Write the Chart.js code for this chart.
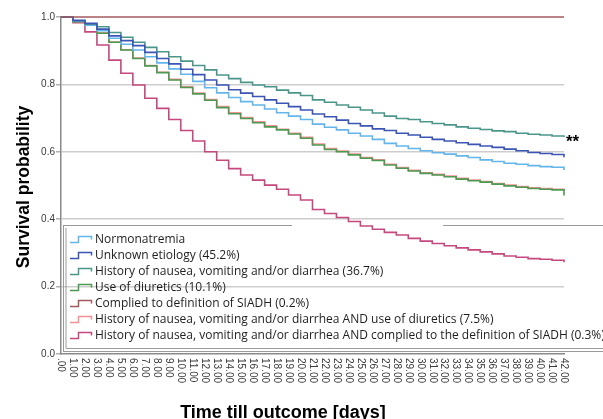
<!DOCTYPE html>
<html><head><meta charset="utf-8">
<script src="https://cdn.jsdelivr.net/npm/chart.js@4"></script>
<style>html,body{margin:0;padding:0;background:#fff}#w{width:603px;height:419px;position:relative}</style>
</head><body><div id="w"><canvas id="c"></canvas></div>
<script>
const xTickLabels = ['.00','1.00','2.00','3.00','4.00','5.00','6.00','7.00','8.00','9.00','10.00','11.00','12.00','13.00','14.00','15.00','16.00','17.00','18.00','19.00','20.00','21.00','22.00','23.00','24.00','25.00','26.00','27.00','28.00','29.00','30.00','31.00','32.00','33.00','34.00','35.00','36.00','37.00','38.00','39.00','40.00','41.00','42.00'];
const yTickLabels = ['0.0','0.2','0.4','0.6','0.8','1.0'];
const seriesNames = [
  'Normonatremia',
  'Unknown etiology (45.2%)',
  'History of nausea, vomiting and/or diarrhea (36.7%)',
  'Use of diuretics (10.1%)',
  'Complied to definition of SIADH (0.2%)',
  'History of nausea, vomiting and/or diarrhea AND use of diuretics (7.5%)',
  'History of nausea, vomiting and/or diarrhea AND complied to the definition of SIADH (0.3%)'
];
const seriesColors = ['#62b6ec','#3a55b5','#4b968b','#4d9a52','#a35a5c','#f39094','#c6487f'];

const normonatremia = [1.0,0.988,0.976,0.959,0.937,0.919,0.902,0.882,0.864,0.846,0.830,0.809,0.790,0.775,0.761,0.749,0.739,0.727,0.716,0.706,0.696,0.682,0.673,0.665,0.655,0.647,0.637,0.625,0.617,0.610,0.603,0.597,0.593,0.588,0.583,0.576,0.571,0.566,0.563,0.559,0.556,0.554,0.546];
const unknownEtiology = [1.0,0.990,0.981,0.964,0.944,0.930,0.915,0.895,0.877,0.861,0.845,0.829,0.813,0.798,0.784,0.774,0.764,0.754,0.744,0.734,0.724,0.712,0.704,0.694,0.684,0.677,0.668,0.663,0.655,0.650,0.643,0.637,0.632,0.627,0.622,0.617,0.613,0.608,0.603,0.598,0.595,0.592,0.584];
const historyNVD = [1.0,0.989,0.979,0.971,0.954,0.940,0.925,0.910,0.897,0.882,0.869,0.856,0.843,0.828,0.817,0.806,0.798,0.793,0.783,0.775,0.767,0.754,0.747,0.739,0.732,0.724,0.715,0.706,0.699,0.696,0.689,0.684,0.680,0.674,0.670,0.666,0.662,0.660,0.655,0.652,0.650,0.647,0.644];
const diuretics = [1.0,0.986,0.976,0.952,0.925,0.902,0.877,0.855,0.835,0.813,0.791,0.772,0.753,0.731,0.713,0.699,0.686,0.674,0.665,0.653,0.640,0.620,0.607,0.600,0.591,0.581,0.574,0.561,0.551,0.543,0.536,0.531,0.526,0.519,0.514,0.510,0.504,0.499,0.495,0.491,0.489,0.487,0.470];
const siadh = [1.0,1.0,1.0,1.0,1.0,1.0,1.0,1.0,1.0,1.0,1.0,1.0,1.0,1.0,1.0,1.0,1.0,1.0,1.0,1.0,1.0,1.0,1.0,1.0,1.0,1.0,1.0,1.0,1.0,1.0,1.0,1.0,1.0,1.0,1.0,1.0,1.0,1.0,1.0,1.0,1.0,1.0,1.0];
const historyAndDiuretics = [1.0,0.986,0.977,0.953,0.926,0.903,0.878,0.856,0.836,0.815,0.793,0.774,0.755,0.734,0.716,0.702,0.689,0.677,0.667,0.655,0.643,0.623,0.610,0.602,0.593,0.583,0.576,0.563,0.553,0.545,0.538,0.533,0.528,0.521,0.516,0.512,0.506,0.501,0.497,0.493,0.491,0.489,0.486];
const historyAndSiadh = [1.0,0.983,0.956,0.917,0.872,0.833,0.798,0.759,0.729,0.696,0.663,0.632,0.600,0.575,0.550,0.531,0.516,0.501,0.489,0.472,0.457,0.429,0.417,0.405,0.393,0.380,0.370,0.361,0.353,0.343,0.335,0.328,0.321,0.315,0.309,0.303,0.297,0.291,0.287,0.283,0.281,0.278,0.272];

const seriesData = [normonatremia, unknownEtiology, historyNVD, diuretics, siadh, historyAndDiuretics, historyAndSiadh];
// drawing order (lower = on top)
const drawOrder = [3, 1, 2, 4, 0, 5, 6];

const overlay = {
  id: 'overlay',
  afterDraw(chart) {
    const ctx = chart.ctx;
    const xs = chart.scales.x;
    ctx.save();
    ctx.fillStyle = '#3a3a3a';
    ctx.font = '10px "Liberation Sans", Arial, sans-serif';
    ctx.textAlign = 'left';
    ctx.textBaseline = 'middle';
    xs.ticks.forEach((t, i) => {
      const px = xs.getPixelForTick(i);
      ctx.save();
      ctx.translate(px, 358);
      ctx.rotate(Math.PI / 2);
      ctx.fillText(xTickLabels[i], 0, 0);
      ctx.restore();
    });
    ctx.restore();

    ctx.save();
    ctx.fillStyle = '#000';
    ctx.font = 'bold 18px "Liberation Sans", Arial, sans-serif';
    ctx.textAlign = 'center';
    ctx.textBaseline = 'alphabetic';
    ctx.fillText('Time till outcome [days]', 283, 418);
    ctx.translate(29, 187);
    ctx.rotate(-Math.PI / 2);
    ctx.font = 'bold 17.5px "Liberation Sans", Arial, sans-serif';
    ctx.fillText('Survival probability', 0, 0);
    ctx.restore();

    ctx.save();
    ctx.fillStyle = '#000';
    ctx.font = 'bold 17px "Liberation Sans", Arial, sans-serif';
    ctx.textAlign = 'left';
    ctx.textBaseline = 'alphabetic';
    ctx.fillText('**', 566, 147);
    ctx.restore();

    ctx.save();
    ctx.strokeStyle = '#9a9a9a';
    ctx.lineWidth = 1;
    ctx.beginPath();
    ctx.moveTo(63, 225.5); ctx.lineTo(292, 225.5);
    ctx.moveTo(443, 225.5); ctx.lineTo(603, 225.5);
    ctx.moveTo(63.5, 225); ctx.lineTo(63.5, 352);
    ctx.moveTo(63, 351.5); ctx.lineTo(603, 351.5);
    ctx.moveTo(66, 228); ctx.lineTo(66, 348.5);
    ctx.moveTo(66, 348.5); ctx.lineTo(603, 348.5);
    ctx.stroke();
    ctx.font = '12px "Open Sans", sans-serif';
    ctx.textAlign = 'left';
    ctx.textBaseline = 'middle';
    seriesNames.forEach((name, i) => {
      const cy = Math.round(239.3 + i * 15.95) + 0.5;
      ctx.strokeStyle = seriesColors[i];
      ctx.lineWidth = 1.5;
      ctx.beginPath();
      ctx.moveTo(70, cy + 3); ctx.lineTo(78.5, cy + 3); ctx.lineTo(78.5, cy - 3);
      ctx.lineTo(91.5, cy - 3); ctx.lineTo(91.5, cy);
      ctx.stroke();
      ctx.fillStyle = '#1e1e1e';
      ctx.fillText(name, 95, cy);
    });
    ctx.restore();
  }
};

new Chart(document.getElementById('c'), {
  type: 'line',
  data: {
    labels: xTickLabels,
    datasets: seriesData.map((d, i) => ({
      label: seriesNames[i],
      data: d,
      borderColor: seriesColors[i],
      backgroundColor: seriesColors[i],
      borderWidth: 1.6,
      pointRadius: 0,
      stepped: 'before',
      fill: false,
      clip: 6,
      order: drawOrder[i]
    }))
  },
  options: {
    responsive: true,
    maintainAspectRatio: false,
    animation: false,
    devicePixelRatio: 1,
    layout: { padding: { left: 0, right: 39, top: 17, bottom: 0 } },
    plugins: { legend: { display: false }, tooltip: { enabled: false }, title: { display: false } },
    scales: {
      x: {
        type: 'category',
        ticks: { display: false },
        grid: { display: true, drawOnChartArea: false, drawTicks: false },
        border: { display: true, color: '#8a8a8a', width: 1.5 },
        afterFit(s) { s.height = 65; }
      },
      y: {
        min: 0, max: 1,
        ticks: {
          stepSize: 0.2,
          padding: 1,
          color: '#3a3a3a',
          font: { family: '"Liberation Sans", Arial, sans-serif', size: 10 },
          callback: (v, i) => yTickLabels[i]
        },
        grid: {
          color: (c) => (c.index === 0 || c.index === 5) ? 'rgba(0,0,0,0)' : '#cdcdcd',
          lineWidth: 1.5, tickLength: 5,
          tickColor: '#b0b0b0'
        },
        border: { display: true, color: '#8a8a8a', width: 1.5 },
        afterFit(s) { s.width = 61; }
      }
    }
  },
  plugins: [overlay]
});
</script>
</body></html>
